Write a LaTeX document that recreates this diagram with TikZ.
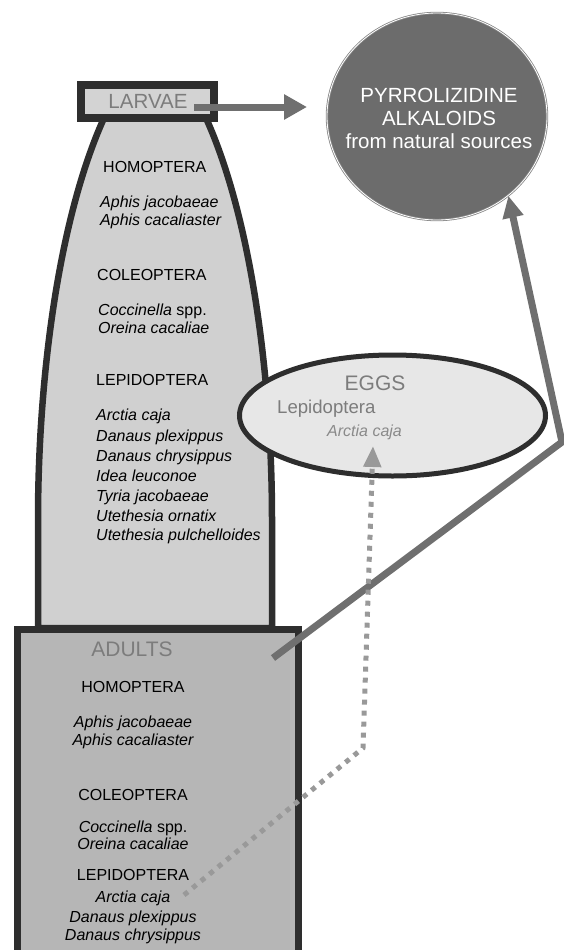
\documentclass[tikz,border=0pt]{standalone}
\usepackage{fontspec}
\setmainfont{Liberation Sans}
\usetikzlibrary{arrows.meta,shapes.geometric}
\definecolor{outl}{HTML}{2E2E2E}
\definecolor{bodyfill}{HTML}{D0D0D0}
\definecolor{boxfill}{HTML}{D3D3D3}
\definecolor{adultfill}{HTML}{B6B6B6}
\definecolor{eggfill}{HTML}{E7E7E7}
\definecolor{circfill}{HTML}{6C6C6C}
\definecolor{circline}{HTML}{858585}
\definecolor{txtgray}{HTML}{7C7C7C}
\definecolor{eggtxt2}{HTML}{8A8A8A}
\definecolor{arrgray}{HTML}{6F6F6F}
\definecolor{dotgray}{HTML}{999999}
\begin{document}
\begin{tikzpicture}[x=1pt,y=-1pt,
  blk/.style={inner sep=0pt, text=black, font=\fontsize{16}{18}\selectfont},
  spc/.style={inner sep=0pt, text=black, font=\fontsize{16}{18}\selectfont\itshape},
  ttl/.style={inner sep=0pt, text=txtgray, font=\fontsize{21}{24}\selectfont},
  whitetxt/.style={inner sep=0pt, text=white, font=\fontsize{20.5}{24}\selectfont},
  bigarrow/.style={draw=arrgray, line width=7pt, -{Triangle[length=23pt,width=24pt]}},
  dotarrow/.style={draw=dotgray, line width=5pt, dash pattern=on 5pt off 6pt, -{Triangle[length=21pt,width=17pt]}},
  stagebox/.style={draw=outl, rectangle, inner sep=0pt},
]
\useasboundingbox (0,0) rectangle (564,950);
\clip (0,0) rectangle (564,950);

% larvae body
\path[draw=outl, line width=6.5pt, fill=bodyfill, line join=round]
  (104,118) .. controls (58,220) and (38,380) .. (38,520) -- (38,628)
  -- (272,628) -- (272,520) .. controls (272,380) and (252,220) .. (206,118) -- cycle;

% adults box
\node[stagebox, fill=adultfill, line width=7pt, minimum width=281pt, minimum height=325pt, anchor=north west] (adults) at (13.5,625.5) {};

% larvae box
\node[stagebox, fill=boxfill, line width=8pt, minimum width=133pt, minimum height=33pt] (larvae) at (147.5,101.5) {};
\node[ttl, font=\fontsize{20.5}{24}\selectfont] (larvaetxt) at (148,101) {LARVAE};

% alkaloids circle
\node[ellipse, fill=circfill, draw=circline, line width=0.8pt, double=white, double distance=0.8pt, minimum width=220pt, minimum height=207pt, inner sep=0pt] (circ) at (437,116.5) {};
\node[whitetxt, anchor=base] (pa1) at (439,102) {PYRROLIZIDINE};
\node[whitetxt, anchor=base] (pa2) at (439,125) {ALKALOIDS};
\node[whitetxt, anchor=base] (pa3) at (439,148.5) {from natural sources};

% larvae texts
\node[blk, anchor=base west] (lh) at (103,172.5) {HOMOPTERA};
\node[spc, anchor=base west] (lh1) at (100,207.5) {Aphis jacobaeae};
\node[spc, anchor=base west] (lh2) at (100,225.5) {Aphis cacaliaster};
\node[blk, anchor=base west] (lc) at (97,280.5) {COLEOPTERA};
\node[blk, anchor=base west] (lc1) at (98,315.5) {\textit{Coccinella} spp.};
\node[spc, anchor=base west] (lc2) at (98,333.5) {Oreina cacaliae};
\node[blk, anchor=base west] (ll) at (96,385.5) {LEPIDOPTERA};
\node[spc, anchor=base west] (ll1) at (96,420.5) {Arctia caja};
\node[spc, anchor=base west] (ll2) at (96,441) {Danaus plexippus};
\node[spc, anchor=base west] (ll3) at (96,461) {Danaus chrysippus};
\node[spc, anchor=base west] (ll4) at (96,481) {Idea leuconoe};
\node[spc, anchor=base west] (ll5) at (96,501) {Tyria jacobaeae};
\node[spc, anchor=base west] (ll6) at (96,521) {Utethesia ornatix};
\node[spc, anchor=base west] (ll7) at (96,540.5) {Utethesia pulchelloides};

% eggs
\node[ellipse, draw=outl, fill=eggfill, line width=5pt, minimum width=306pt, minimum height=121pt, inner sep=0pt] (eggs) at (392.5,415.5) {};
\node[ttl, anchor=base] (eggtxt) at (375,390.5) {EGGS};
\node[ttl, anchor=base west, font=\fontsize{18.6}{22}\selectfont] (egglep) at (277,413.5) {Lepidoptera};
\node[spc, anchor=base west, text=eggtxt2] (eggarc) at (327,436.5) {Arctia caja};

% adults texts
\node[ttl, anchor=base] (adulttxt) at (132,656.5) {ADULTS};
\node[blk, anchor=base] (ah) at (133,692.5) {HOMOPTERA};
\node[spc, anchor=base] (ah1) at (133,727.5) {Aphis jacobaeae};
\node[spc, anchor=base] (ah2) at (133,745.5) {Aphis cacaliaster};
\node[blk, anchor=base] (ac) at (133,800.5) {COLEOPTERA};
\node[blk, anchor=base] (ac1) at (133,832.5) {\textit{Coccinella} spp.};
\node[spc, anchor=base] (ac2) at (133,849.5) {Oreina cacaliae};
\node[blk, anchor=base] (al) at (133,880.5) {LEPIDOPTERA};
\node[spc, anchor=base] (al1) at (133,902.5) {Arctia caja};
\node[spc, anchor=base] (al2) at (133,922.5) {Danaus plexippus};
\node[spc, anchor=base] (al3) at (133,940.5) {Danaus chrysippus};

% connector coordinates
\coordinate (lstart) at (194,107);
\coordinate (ltip) at (307,107);
\coordinate (astart) at (273,658);
\coordinate (abend) at (562,442);
\coordinate (dstart) at (184,895);
\coordinate (dbend) at (363,748);
\coordinate (dtip) at (373,446);

% connectors
\draw[bigarrow] (lstart) -- (ltip);
\draw[bigarrow, -{Triangle[length=22pt,width=20pt]}, line join=miter] (astart) -- (abend) -- (circ.-48);
\draw[dotarrow] (dstart) -- (dbend) -- (dtip);
\end{tikzpicture}
\end{document}
